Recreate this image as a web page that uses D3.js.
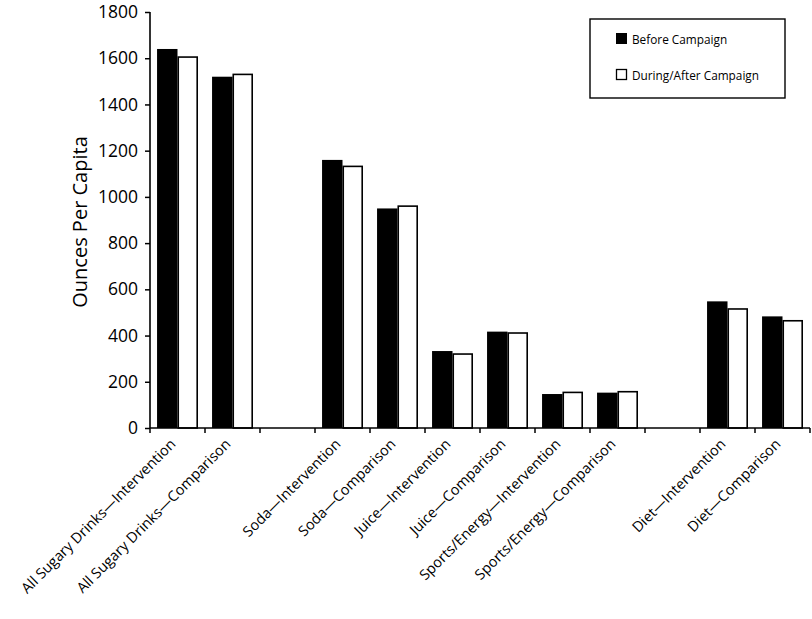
<!DOCTYPE html>
<html>
<head>
<meta charset="utf-8">
<script src="https://cdn.jsdelivr.net/npm/d3@7/dist/d3.min.js"></script>
<style>
  html, body { margin: 0; padding: 0; background: #fff; }
  svg { display: block; }
  text { font-family: "Open Sans", "Noto Sans", sans-serif; fill: #000; }
</style>
</head>
<body>
<svg id="chart" width="812" height="619"></svg>
<script>
// ---- data ----
const categories = [
  "All Sugary Drinks\u2014Intervention",
  "All Sugary Drinks\u2014Comparison",
  "",
  "Soda\u2014Intervention",
  "Soda\u2014Comparison",
  "Juice\u2014Intervention",
  "Juice\u2014Comparison",
  "Sports/Energy\u2014Intervention",
  "Sports/Energy\u2014Comparison",
  " ",
  "Diet\u2014Intervention",
  "Diet\u2014Comparison"
];
const seriesNames = ["Before Campaign", "During/After Campaign"];
const beforeValues = [1640, 1520, null, 1160, 950, 333, 417, 147, 153, null, 548, 483];
const afterValues  = [1605, 1530, null, 1132, 960, 320, 411, 154, 157, null, 515, 464];
const yTicks = [0, 200, 400, 600, 800, 1000, 1200, 1400, 1600, 1800];
const yLabel = "Ounces Per Capita";

// ---- layout ----
const svg = d3.select("#chart");
const mLeft = 150, mRight = 810, mTop = 12, mBottom = 428;

const x = d3.scaleBand().domain(categories).range([mLeft, mRight]).paddingInner(0).paddingOuter(0);
const inner = d3.scaleBand().domain([0, 1]).range([0, x.bandwidth()]).paddingInner(0).paddingOuter(0.345);
const y = d3.scaleLinear().domain([0, 1800]).range([mBottom, mTop]);

const seriesData = [beforeValues, afterValues];
const fills = ["#000", "#fff"];

// bars
seriesData.forEach((vals, si) => {
  svg.append("g").selectAll("rect")
    .data(categories.map((c, i) => ({ c, v: vals[i] })).filter(d => d.v != null))
    .join("rect")
    .attr("x", d => x(d.c) + inner(si) + (si === 1 ? 0.75 : 0))
    .attr("width", inner.bandwidth() - (si === 1 ? 1.5 : 0))
    .attr("y", d => y(d.v))
    .attr("height", d => y(0) - y(d.v))
    .attr("fill", fills[si])
    .attr("stroke", si === 1 ? "#000" : "none")
    .attr("stroke-width", 1.6);
});

// y axis
const yAxis = svg.append("g")
  .attr("transform", `translate(${mLeft},0)`)
  .call(d3.axisLeft(y).tickValues(yTicks).tickSize(5).tickPadding(7).tickFormat(d3.format("d")));
yAxis.select(".domain").attr("stroke", "#000").attr("stroke-width", 1.6).attr("d", `M0,${mTop}V${mBottom}`);
yAxis.selectAll(".tick line").attr("stroke", "#000").attr("stroke-width", 1.5);
yAxis.selectAll(".tick text").style("font-size", "17.5px").style("font-family", '"Open Sans", sans-serif');

// x axis line + ticks at band boundaries
const xg = svg.append("g");
xg.append("line").attr("x1", mLeft).attr("x2", mRight).attr("y1", mBottom).attr("y2", mBottom)
  .attr("stroke", "#000").attr("stroke-width", 1.6);
const boundaries = categories.map(c => x(c)).concat([mRight]);
xg.selectAll("line.tk").data(boundaries).join("line").attr("class", "tk")
  .attr("x1", d => d).attr("x2", d => d).attr("y1", mBottom).attr("y2", mBottom + 5)
  .attr("stroke", "#000").attr("stroke-width", 1.5);

// x labels
xg.selectAll("text.xl").data(categories.filter(c => c.trim() !== "")).join("text").attr("class", "xl")
  .attr("transform", d => `translate(${x(d) + x.bandwidth() / 2 - 1},${mBottom + 17}) rotate(-45)`)
  .attr("text-anchor", "end")
  .style("font-size", "14.5px")
  .text(d => d);

// y label
svg.append("text")
  .attr("transform", `translate(87,${(mTop + mBottom) / 2 + 2}) rotate(-90)`)
  .attr("text-anchor", "middle")
  .style("font-size", "20px")
  .text(yLabel);

// legend
const lg = svg.append("g");
lg.append("rect").attr("x", 590).attr("y", 19).attr("width", 195).attr("height", 79)
  .attr("fill", "#fff").attr("stroke", "#000").attr("stroke-width", 1.4);
seriesNames.forEach((n, i) => {
  const yy = 33 + i * 36;
  lg.append("rect").attr("x", 616 + (i ? 0.5 : 0)).attr("y", yy + (i ? 0.5 : 0))
    .attr("width", i ? 10 : 11).attr("height", i ? 10 : 11)
    .attr("fill", fills[i]).attr("stroke", i ? "#000" : "none").attr("stroke-width", 1.3);
  lg.append("text").attr("x", 632).attr("y", yy + 10.5)
    .style("font-size", "11.8px").text(n);
});
</script>
</body>
</html>
